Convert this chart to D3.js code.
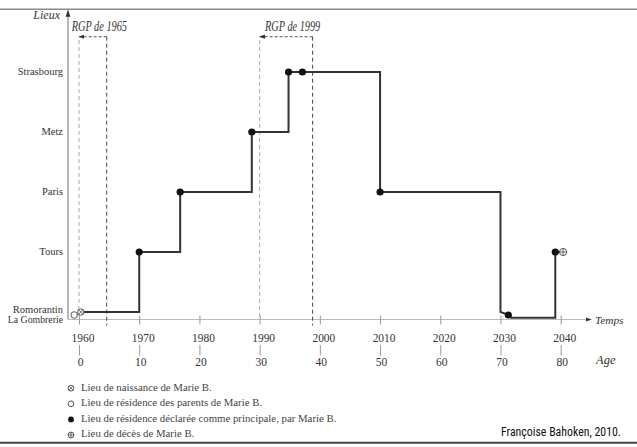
<!DOCTYPE html>
<html><head><meta charset="utf-8">
<script src="https://cdn.jsdelivr.net/npm/d3@7"></script>
<style>body{margin:0;background:#fff;}</style>
</head><body>
<svg id="c" width="637" height="447"></svg>
<script>
// ---- data ----
const places = ["La Gombrerie", "Romorantin", "Tours", "Paris", "Metz", "Strasbourg"];
const placeLevels = [-0.1, 0, 1, 2, 3, 4];
const yearTicks = [1960, 1970, 1980, 1990, 2000, 2010, 2020, 2030, 2040];
const ageTicks = [0, 10, 20, 30, 40, 50, 60, 70, 80];
// trajectory vertices (year, level)
const pathYears  = [1960.4, 1970, 1970, 1976.8, 1976.8, 1988.7, 1988.7, 1994.8, 1994.8, 2010, 2010, 2030, 2030, 2031.1, 2031.8, 2039.1, 2039.1, 2040.0];
const pathLevels = [0,      0,    1,    1,      2,      2,      3,      3,      4,      4,    2,    2,    0,    -0.04,  -0.095, -0.095, 1,      1];
// declared main residences
const dotYears  = [1970, 1976.8, 1988.7, 1994.8, 1997.1, 2010, 2031.3, 2039.1];
const dotLevels = [1, 2, 3, 4, 4, 2, -0.05, 1];
const birth = {year: 1960.3, level: 0};
const parents = {year: 1959.2, level: -0.05};
const death = {year: 2040.4, level: 1};
const rgpLabels = ["RGP de 1965", "RGP de 1999"];
const rgpYears = [1964.6, 1998.8];
const rgpFrom = [1960, 1990];
const legendLabels = ["Lieu de naissance de Marie B.", "Lieu de résidence des parents de Marie B.", "Lieu de résidence déclarée comme principale, par Marie B.", "Lieu de décès de Marie B."];
const legendKinds = ["birth", "parents", "residence", "death"];
const credit = "Françoise Bahoken, 2010.";

// ---- drawing ----
const SERIF = "Liberation Serif";
const svg = d3.select("#c");
const x = d3.scaleLinear().domain([1960, 2040]).range([79, 560.7]);
const xAge = d3.scaleLinear().domain([0, 80]).range([79, 560.7]);
const y = d3.scaleLinear().domain([0, 4]).range([312, 72]);
const axisY = 319.5;

function txt(g, xx, yy, s, size, opts = {}) {
  const sx = opts.sx || 1;
  const t = g.append("text").attr("transform", `translate(${xx},${yy}) scale(${sx},1)`)
    .style("font-family", SERIF).style("font-size", size + "px")
    .attr("fill", opts.fill || "#333").text(s);
  if (opts.italic) t.style("font-style", "italic");
  if (opts.anchor) t.attr("text-anchor", opts.anchor);
  return t;
}

// frame lines
svg.append("line").attr("x1",0).attr("x2",637).attr("y1",9.3).attr("y2",9.3).attr("stroke","#8a8a8a").attr("stroke-width",1.6);
svg.append("line").attr("x1",0).attr("x2",637).attr("y1",442.7).attr("y2",442.7).attr("stroke","#444").attr("stroke-width",2);

const defs = svg.append("defs");
defs.append("marker").attr("id","arr").attr("viewBox","0 0 10 10").attr("refX",9).attr("refY",5)
  .attr("markerWidth",7).attr("markerHeight",7).attr("orient","auto").attr("markerUnits","userSpaceOnUse")
  .append("path").attr("d","M0,1.5 L10,5 L0,8.5 Z").attr("fill","#333");
defs.append("marker").attr("id","arrs").attr("viewBox","0 0 10 10").attr("refX",9).attr("refY",5)
  .attr("markerWidth",6).attr("markerHeight",6).attr("orient","auto").attr("markerUnits","userSpaceOnUse")
  .append("path").attr("d","M0,1.5 L10,5 L0,8.5 Z").attr("fill","#333");

// y axis
svg.append("line").attr("x1",68).attr("x2",68).attr("y1",axisY).attr("y2",10.5).attr("stroke","#888").attr("stroke-width",1.2).attr("marker-end","url(#arr)");
txt(svg, 60, 18.5, "Lieux", 12, {italic:true, anchor:"end"});

// x axis line
svg.append("line").attr("x1",68).attr("x2",591).attr("y1",axisY).attr("y2",axisY).attr("stroke","#bbb").attr("stroke-width",1).attr("marker-end","url(#arrs)");
txt(svg, 595, 324, "Temps", 11.3, {italic:true});

// year axis
const gYear = svg.append("g").attr("transform",`translate(0,${axisY})`)
  .call(d3.axisBottom(x).tickValues(yearTicks).tickFormat(d3.format("d")).tickSize(5));
gYear.attr("font-family", null);
gYear.select(".domain").remove();
gYear.selectAll(".tick line").attr("y1",-4).attr("stroke","#999");
gYear.selectAll(".tick text").attr("y",null).attr("dy",null)
  .attr("transform","translate(3.5,22) scale(0.88,1)")
  .style("font-family",SERIF).style("font-size","13px").attr("fill","#333");

// age axis
const gAge = svg.append("g").attr("transform","translate(0,345)")
  .call(d3.axisBottom(xAge).tickValues(ageTicks).tickFormat(d3.format("d")).tickSize(10.5));
gAge.attr("font-family", null);
gAge.select(".domain").remove();
gAge.selectAll(".tick line").attr("stroke","#999");
gAge.selectAll(".tick text").attr("y",null).attr("dy",null)
  .attr("transform","translate(1,21)")
  .style("font-family",SERIF).style("font-size","11.5px").attr("fill","#333");
txt(svg, 596, 364, "Age", 12.5, {italic:true});

// place labels
places.forEach((p,i)=>{
  if (p === "Romorantin") {
    txt(svg, 63, y(placeLevels[i]) + 1, p, 10.5, {anchor:"end"});
  } else if (p === "La Gombrerie") {
    txt(svg, 63, y(0) + 10.5, p, 9.8, {anchor:"end"});
  } else {
    txt(svg, 63, y(placeLevels[i]) + 2.5, p, 10.5, {anchor:"end"});
  }
});

// RGP dashed references
rgpYears.forEach((yr,i)=>{
  svg.append("line").attr("x1",x(rgpFrom[i])).attr("x2",x(rgpFrom[i])).attr("y1",40).attr("y2",axisY-3)
    .attr("stroke","#aaa").attr("stroke-width",1).attr("stroke-dasharray","4,3");
  svg.append("line").attr("x1",x(yr)).attr("x2",x(yr)).attr("y1",36.7).attr("y2",axisY+6)
    .attr("stroke","#444").attr("stroke-width",1).attr("stroke-dasharray","4,3");
  svg.append("line").attr("x1",x(yr)).attr("x2",x(rgpFrom[i])).attr("y1",36.7).attr("y2",36.7)
    .attr("stroke","#555").attr("stroke-width",1).attr("stroke-dasharray","3,2").attr("marker-end","url(#arrs)");
  txt(svg, (x(rgpFrom[i])+x(yr))/2 + 6.5, 30.5, rgpLabels[i], 14.5, {italic:true, anchor:"middle", sx:0.71});
});

// trajectory
const pts = pathYears.map((yr,i)=>[x(yr), y(pathLevels[i])]);
svg.append("path").attr("d", d3.line()(pts)).attr("fill","none").attr("stroke","#333").attr("stroke-width",2).attr("stroke-linejoin","miter");

// residence dots
svg.selectAll("circle.res").data(dotYears).join("circle").attr("class","res")
  .attr("cx",d=>x(d)).attr("cy",(d,i)=>y(dotLevels[i])).attr("r",3.6).attr("fill","#111");

function symbol(g, kind, cx, cy, r){
  if (kind === "residence") { g.append("circle").attr("cx",cx).attr("cy",cy).attr("r",r).attr("fill","#111"); return; }
  g.append("circle").attr("cx",cx).attr("cy",cy).attr("r",r).attr("fill","#fff").attr("stroke","#444").attr("stroke-width",0.9);
  if (kind === "birth") {
    const k = r*0.7;
    g.append("path").attr("d",`M${cx-k},${cy-k}L${cx+k},${cy+k}M${cx-k},${cy+k}L${cx+k},${cy-k}`).attr("stroke","#444").attr("stroke-width",0.8);
  } else if (kind === "death") {
    g.append("path").attr("d",`M${cx},${cy-r}L${cx},${cy+r}M${cx-r},${cy}L${cx+r},${cy}`).attr("stroke","#444").attr("stroke-width",0.8);
  }
}
symbol(svg, "parents", x(parents.year), y(parents.level), 3.3);
symbol(svg, "birth", x(birth.year), y(birth.level), 3.2);
symbol(svg, "death", x(death.year), y(death.level), 3.6);

// legend
legendLabels.forEach((t,i)=>{
  const cy = 386.7 + i*15.6;
  symbol(svg, legendKinds[i], 71, cy + 1.5, 2.9);
  txt(svg, 81, cy + 3.8, t, 10.8, {fill:"#444"});
});

// credit
svg.append("text").attr("x",621).attr("y",436).attr("text-anchor","end")
  .style("font-family","Roboto Condensed").style("font-size","12.5px")
  .attr("textLength",120).attr("lengthAdjust","spacingAndGlyphs")
  .attr("fill","#111").text(credit);
</script>
</body></html>
